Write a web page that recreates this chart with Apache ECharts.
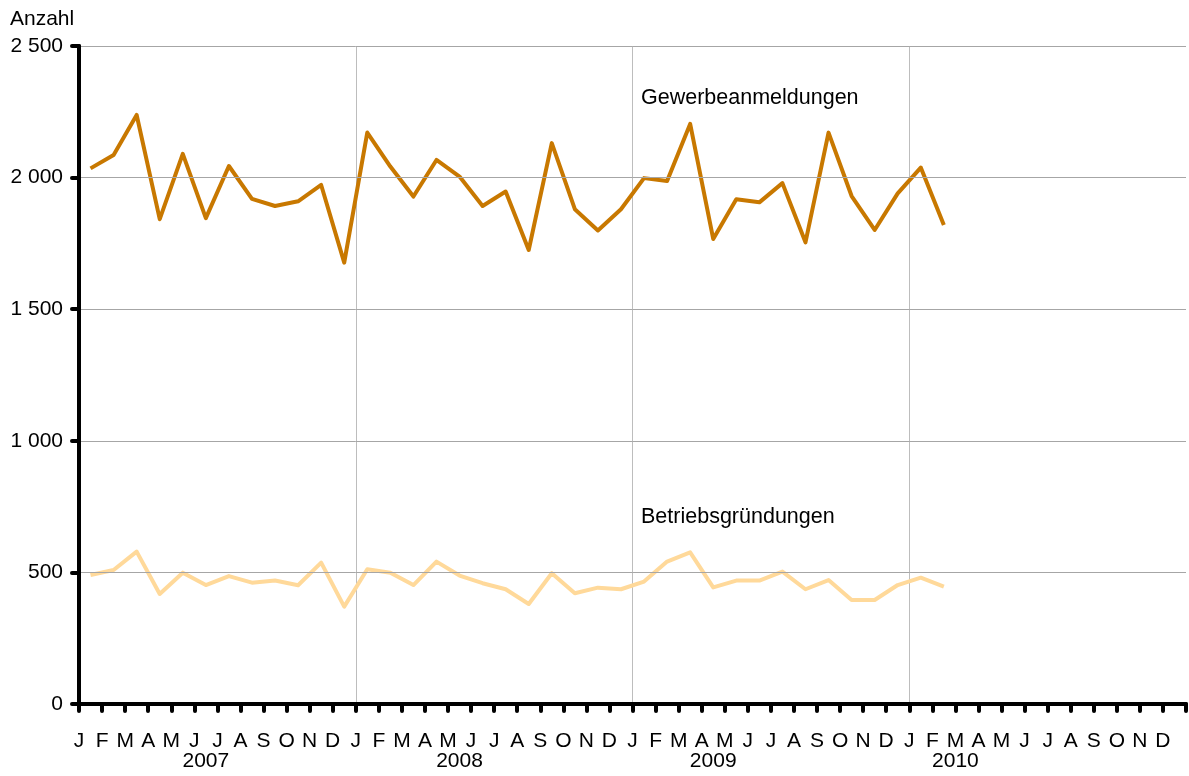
<!DOCTYPE html>
<html>
<head>
<meta charset="utf-8">
<script src="https://cdn.jsdelivr.net/npm/echarts@6/dist/echarts.min.js"></script>
<style>
  html, body { margin: 0; padding: 0; background: #fff; }
  #chart { width: 1189px; height: 776px; }
</style>
</head>
<body>
<div id="chart"></div>
<script>
const monthLetters = ['J','F','M','A','M','J','J','A','S','O','N','D'];
const years = ['2007','2008','2009','2010'];
const yTicks = [0, 500, 1000, 1500, 2000, 2500];

const gewerbeanmeldungen = [
  2035, 2086, 2238, 1842, 2090, 1846, 2044, 1919, 1892, 1910, 1972, 1677,
  2171, 2042, 1928, 2067, 2004, 1892, 1947, 1725, 2131, 1880, 1799, 1880,
  1998, 1987, 2204, 1767, 1918, 1906, 1979, 1754, 2171, 1930, 1801, 1940,
  2038, 1820
];
const betriebsgruendungen = [
  490, 509, 579, 418, 499, 452, 486, 461, 469, 451, 537, 370,
  512, 499, 452, 541, 488, 459, 436, 380, 497, 421, 442, 436,
  465, 541, 576, 443, 469, 469, 503, 436, 471, 395, 395, 452,
  480, 446
];
const seriesNames = ['Gewerbeanmeldungen', 'Betriebsgründungen'];

// category scaffolding built from the arrays above
const months = [];
years.forEach(y => monthLetters.forEach(m => months.push(m + ' ' + y)));
const monthTickLabels = [];
years.forEach(() => monthLetters.forEach(m => monthTickLabels.push(m)));
monthTickLabels.push('');
// year captions on a half-month grid (97 slots)
const yearHalfOffsets = [11, 9, 7, 4];
const yearCats = [];
for (let i = 0; i <= years.length * 24; i++) yearCats.push('');
years.forEach((y, i) => { yearCats[i * 24 + yearHalfOffsets[i]] = y; });

const FONT = 'Liberation Sans, Arial, sans-serif';
const FS = 21;
const chart = echarts.init(document.getElementById('chart'));

chart.setOption({
  animation: false,
  backgroundColor: '#fff',
  title: {
    text: 'Anzahl', left: 5, top: 4,
    textStyle: { fontFamily: FONT, fontSize: FS, fontWeight: 'normal', color: '#000' }
  },
  grid: { left: 79, right: 2, top: 46, bottom: 72, containLabel: false },
  xAxis: [
    {
      type: 'category', data: months, boundaryGap: true, position: 'bottom',
      axisLine: { lineStyle: { color: '#000', width: 4 } },
      axisTick: { show: true, interval: 0, length: 7, lineStyle: { color: '#000', width: 4, cap: 'round' } },
      axisLabel: { show: false },
      splitLine: { show: false },
      z: 5
    },
    {
      type: 'category', data: monthTickLabels, boundaryGap: false, position: 'bottom',
      axisLine: { show: false }, axisTick: { show: false },
      splitLine: {
        show: true,
        interval: function (i) { return i % 12 === 0 && i > 0 && i < 48; },
        lineStyle: { color: '#bdbdbd', width: 1 }
      },
      axisLabel: { interval: 0, margin: 27, fontFamily: FONT, fontSize: FS, color: '#000' }
    },
    {
      type: 'category', data: yearCats, boundaryGap: false, position: 'bottom',
      axisLine: { show: false }, axisTick: { show: false }, splitLine: { show: false },
      axisLabel: { interval: 0, margin: 47, fontFamily: FONT, fontSize: FS, color: '#000' }
    }
  ],
  yAxis: {
    type: 'value', min: yTicks[0], max: yTicks[yTicks.length - 1], interval: 500,
    axisLine: { show: true, lineStyle: { color: '#000', width: 4 } },
    axisTick: { show: true, length: 7, lineStyle: { color: '#000', width: 4, cap: 'round' } },
    axisLabel: {
      margin: 16, fontFamily: FONT, fontSize: FS, color: '#000',
      formatter: v => String(v).replace(/\B(?=(\d{3})+(?!\d))/g, ' ')
    },
    splitLine: { show: true, lineStyle: { color: '#a6a6a6', width: 1 } },
    z: 5
  },
  series: [
    {
      name: seriesNames[0], type: 'line', data: gewerbeanmeldungen,
      xAxisIndex: 0, symbol: 'none',
      lineStyle: { color: '#C87800', width: 4, join: 'round' },
      markPoint: {
        symbol: 'circle', symbolSize: 0,
        data: [{ coord: [24, 2303] }],
        label: { show: true, position: 'right', distance: 0, offset: [-3, 0], formatter: seriesNames[0],
                 fontFamily: FONT, fontSize: 21.5, color: '#000' }
      },
      z: 3
    },
    {
      name: seriesNames[1], type: 'line', data: betriebsgruendungen,
      xAxisIndex: 0, symbol: 'none',
      lineStyle: { color: '#FFD99A', width: 4, join: 'round' },
      markPoint: {
        symbol: 'circle', symbolSize: 0,
        data: [{ coord: [24, 711] }],
        label: { show: true, position: 'right', distance: 0, offset: [-3, 0], formatter: seriesNames[1],
                 fontFamily: FONT, fontSize: 21.5, color: '#000' }
      },
      z: 3
    }
  ]
});
</script>
</body>
</html>
